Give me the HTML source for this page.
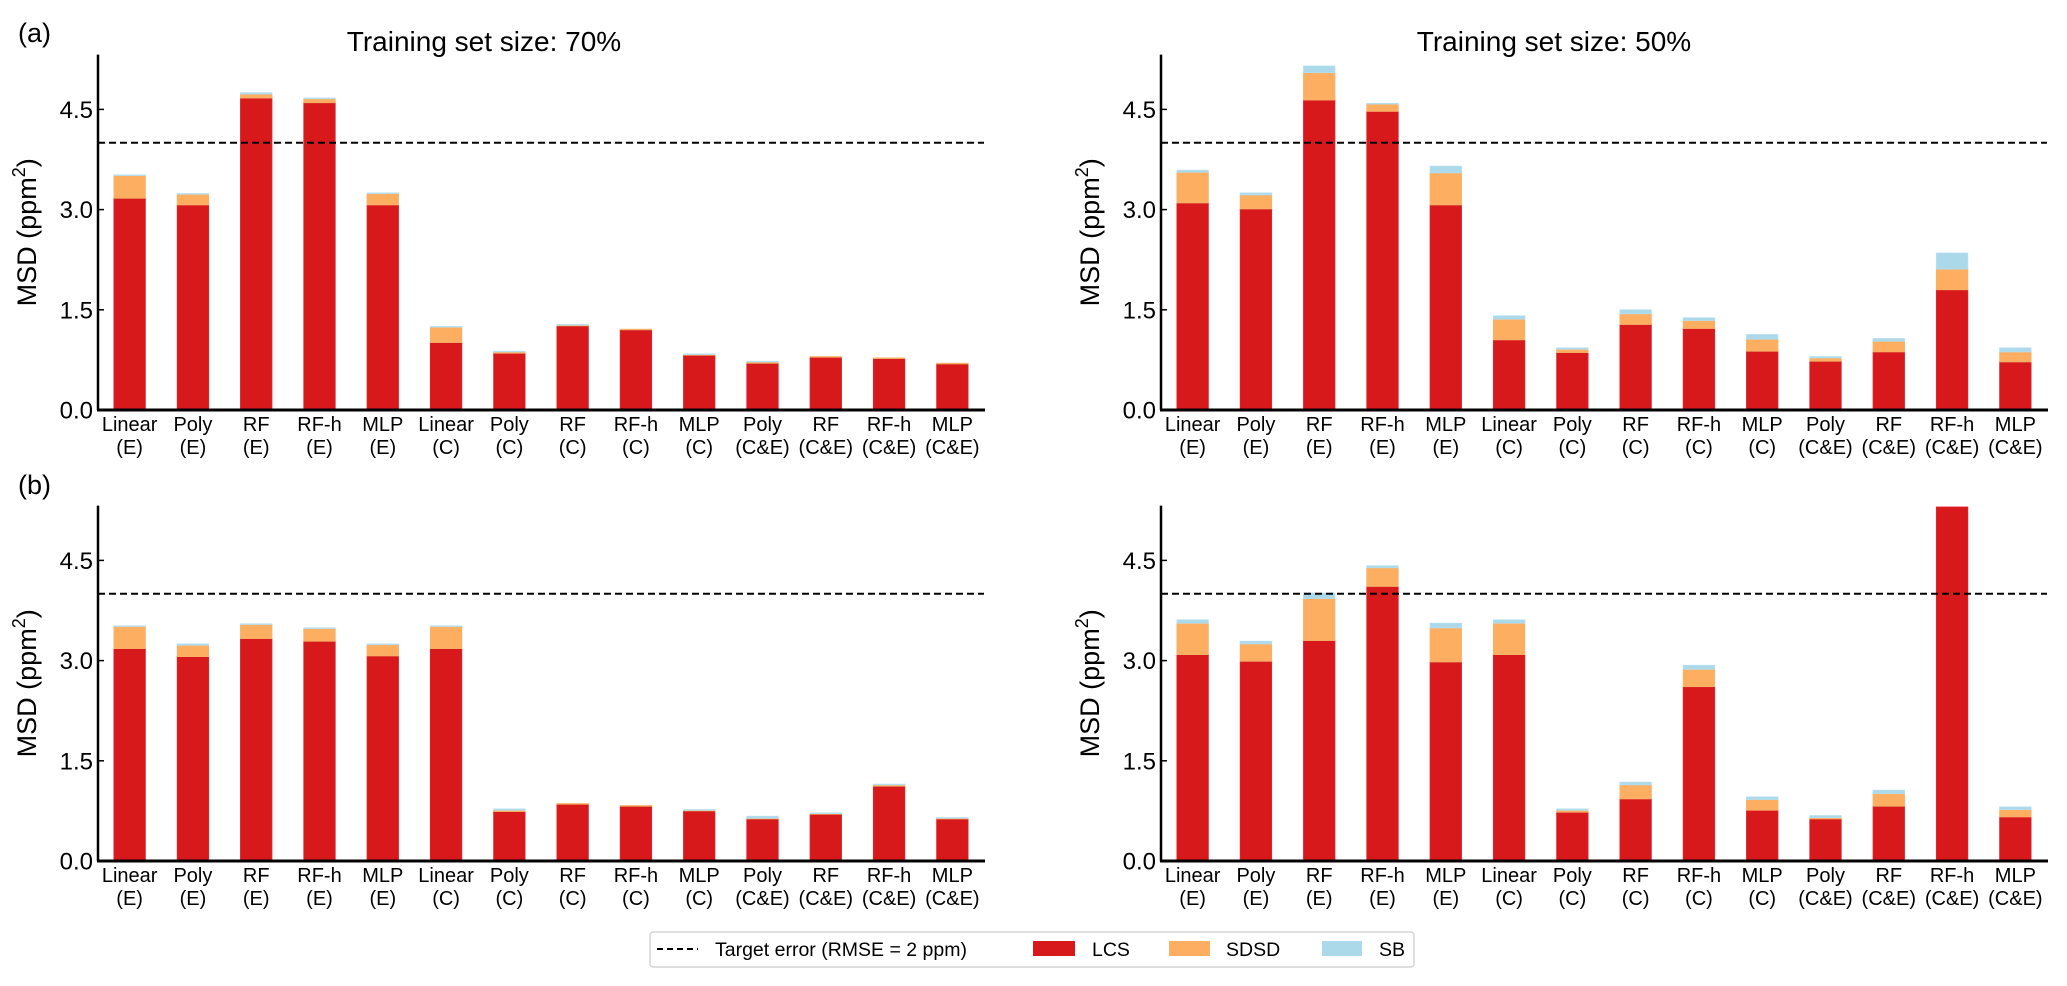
<!DOCTYPE html>
<html><head><meta charset="utf-8"><style>
html,body{margin:0;padding:0;background:#fff;}
svg{display:block;font-family:"Liberation Sans",sans-serif;}
</style></head><body>
<svg id="fig" width="2067" height="986" viewBox="0 0 2067 986" xmlns="http://www.w3.org/2000/svg">
<text x="18" y="42" font-size="27">(a)</text>
<text x="18" y="494" font-size="27">(b)</text>
<text x="484" y="51" font-size="28" text-anchor="middle">Training set size: 70%</text>
<text x="1554" y="51" font-size="28" text-anchor="middle">Training set size: 50%</text>
<g>
<rect x="650" y="932" width="764" height="35" rx="3" fill="#fff" stroke="#ccc" stroke-width="1.2"/>
<line x1="657" y1="949" x2="698" y2="949" stroke="#000" stroke-width="2" stroke-dasharray="6,4"/>
<text x="715" y="956" font-size="19.5">Target error (RMSE = 2 ppm)</text>
<rect x="1033" y="941" width="42" height="15" fill="#d7191c"/>
<text x="1092" y="956" font-size="19.5">LCS</text>
<rect x="1169" y="941" width="41" height="15" fill="#fdae61"/>
<text x="1226" y="956" font-size="19.5">SDSD</text>
<rect x="1322" y="941" width="40" height="15" fill="#abd9e9"/>
<text x="1379" y="956" font-size="19.5">SB</text>
</g>
</svg>
<script>
const categories = ["Linear|(E)","Poly|(E)","RF|(E)","RF-h|(E)","MLP|(E)","Linear|(C)","Poly|(C)","RF|(C)","RF-h|(C)","MLP|(C)","Poly|(C&E)","RF|(C&E)","RF-h|(C&E)","MLP|(C&E)"];
const yTicks = [0.0, 1.5, 3.0, 4.5];
const targetMSD = 4.0;
// cumulative tops: LCS, LCS+SDSD, LCS+SDSD+SB
const aLeftLCS  = [3.17,3.07,4.67,4.60,3.07,1.01,0.85,1.26,1.20,0.82,0.70,0.79,0.77,0.69];
const aLeftSDSD = [3.51,3.23,4.73,4.66,3.24,1.24,0.87,1.27,1.21,0.83,0.72,0.80,0.78,0.70];
const aLeftSB   = [3.52,3.24,4.75,4.67,3.25,1.25,0.88,1.28,1.21,0.84,0.73,0.80,0.78,0.70];
const aRightLCS  = [3.10,3.01,4.64,4.47,3.07,1.05,0.86,1.28,1.22,0.88,0.73,0.87,1.80,0.72];
const aRightSDSD = [3.56,3.22,5.05,4.58,3.55,1.36,0.91,1.44,1.34,1.06,0.78,1.03,2.11,0.87];
const aRightSB   = [3.59,3.25,5.15,4.59,3.65,1.41,0.93,1.50,1.38,1.13,0.80,1.07,2.35,0.93];
const bLeftLCS  = [3.18,3.06,3.33,3.29,3.07,3.18,0.74,0.85,0.82,0.75,0.63,0.70,1.12,0.63];
const bLeftSDSD = [3.51,3.23,3.54,3.48,3.24,3.51,0.76,0.86,0.83,0.76,0.64,0.71,1.14,0.64];
const bLeftSB   = [3.52,3.25,3.55,3.49,3.25,3.52,0.78,0.86,0.83,0.77,0.67,0.72,1.15,0.65];
const bRightLCS  = [3.09,2.99,3.30,4.11,2.98,3.09,0.73,0.93,2.61,0.76,0.63,0.82,5.30,0.66];
const bRightSDSD = [3.56,3.25,3.93,4.39,3.49,3.56,0.76,1.14,2.87,0.92,0.65,1.01,5.30,0.77];
const bRightSB   = [3.61,3.29,4.01,4.42,3.56,3.61,0.78,1.18,2.93,0.96,0.68,1.06,5.30,0.81];

const svg = document.getElementById('fig');
const NS = 'http://www.w3.org/2000/svg';
function mk(tag, attrs, parent){ const e=document.createElementNS(NS,tag); for(const k in attrs) e.setAttribute(k,attrs[k]); (parent||svg).appendChild(e); return e; }

const YMAX = 5.32, PXU = 66.8, W = 886;
function panel(name, x0, y0, lcs, sdsd, sb){
  const g = mk('g',{});
  
  
  const xs = i => x0 + (i+0.5)*W/categories.length;
  const ys = v => y0 - v*PXU;
  const bw = 31.5;
  const colors = ['#d7191c','#fdae61','#abd9e9'];
  const edges = ['#e0262a','#f5b26a','#b5dff0'];
  const names = ['lcs','sdsd','sb'];
  categories.forEach((c,i)=>{
    const stacks=[[0,lcs[i]],[lcs[i],sdsd[i]],[sdsd[i],sb[i]]];
    stacks.forEach((s,k)=>{
      const h = ys(s[0])-ys(s[1]);
      if(h<=0) return;
      const r = mk('rect',{x:xs(i)-bw/2,y:ys(s[1]),width:bw,height:h,fill:colors[k],stroke:edges[k],'stroke-width':0.8},g);
      
      
    });
    const parts=c.split('|');
    const t = mk('text',{x:xs(i),y:y0+21,'font-size':20,'text-anchor':'middle'},g);
    
    
    t.textContent = parts[0];
    const t2 = mk('text',{x:xs(i),y:y0+44,'font-size':20,'text-anchor':'middle'},g);
    
    
    t2.textContent = parts[1];
  });
  const dl = mk('line',{x1:x0,x2:x0+W,y1:ys(targetMSD),y2:ys(targetMSD),stroke:'#000','stroke-width':2,'stroke-dasharray':'7,4'},g);
  
  
  const ya = mk('line',{x1:x0,x2:x0,y1:ys(YMAX),y2:y0,stroke:'#000','stroke-width':2.5},g);
  
  
  const xa = mk('line',{x1:x0-1,x2:x0+W+1,y1:y0,y2:y0,stroke:'#000','stroke-width':3},g);
  
  
  yTicks.forEach(v=>{
    const tk = mk('line',{x1:x0,x2:x0+6,y1:ys(v),y2:ys(v),stroke:'#000','stroke-width':1.5},g);
    
    
    const tl = mk('text',{x:x0-5,y:ys(v)+8.5,'font-size':24,'text-anchor':'end'},g);
    
    
    tl.textContent = v.toFixed(1);
  });
  const cy = y0 - YMAX*PXU/2;
  const lab = mk('text',{x:0,y:0,'font-size':27,'text-anchor':'middle',transform:`translate(${x0-62},${cy}) rotate(-90)`},g);
  
  
  lab.innerHTML = 'MSD (ppm<tspan dy="-11" font-size="18">2</tspan><tspan dy="11">)</tspan>';
}
panel('chart-a-70', 98, 410, aLeftLCS, aLeftSDSD, aLeftSB);
panel('chart-a-50', 1161, 410, aRightLCS, aRightSDSD, aRightSB);
panel('chart-b-70', 98, 861, bLeftLCS, bLeftSDSD, bLeftSB);
panel('chart-b-50', 1161, 861, bRightLCS, bRightSDSD, bRightSB);
</script>
</body></html>
